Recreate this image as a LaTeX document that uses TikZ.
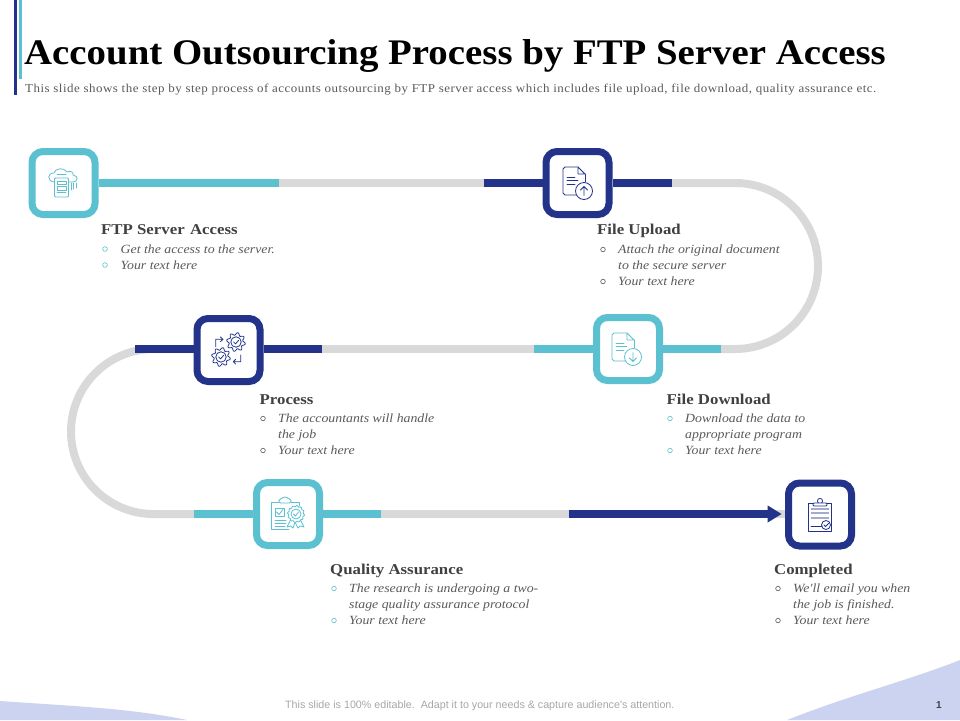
\documentclass[tikz,border=0pt]{standalone}
\usepackage{fontspec}
\setmainfont{Liberation Serif}
\newfontfamily\titlefont[FakeStretch=1.079]{Liberation Serif}
\newfontfamily\subfont[FakeStretch=1.08,LetterSpace=4.1]{Liberation Serif}
\newfontfamily\headfont[FakeStretch=1.12]{Liberation Serif}
\newfontfamily\itemfont[FakeStretch=1.105]{Liberation Serif}
\newfontfamily\footfont{Liberation Sans}
\usetikzlibrary{arrows.meta,calc}
\definecolor{navy}{RGB}{34,51,137}
\definecolor{teal2}{RGB}{91,192,208}
\definecolor{track}{RGB}{217,217,217}
\definecolor{wave}{RGB}{204,211,240}
\definecolor{headc}{RGB}{64,64,64}
\definecolor{bodyc}{RGB}{89,89,89}
\definecolor{linec}{RGB}{165,172,205}
\tikzset{
  stepbox/.style={draw=#1,line width=7pt,fill=white,rounded corners=11pt,minimum size=63pt,inner sep=0pt},
  trackline/.style={draw=track,line width=8pt},
  segline/.style={draw=#1,line width=8pt},
  heading/.style={anchor=base west,inner sep=0pt,text=headc,font=\headfont\fontsize{15}{16}\selectfont\bfseries},
  itemtext/.style={anchor=north west,inner sep=0pt,yshift=-1pt,text=bodyc,align=left,font=\itemfont\fontsize{12.5}{16}\selectfont\itshape},
  bulletdot/.style={circle,draw=#1,line width=0.6pt,minimum size=4.6pt,inner sep=0pt,yshift=-0.5pt},
  iconline/.style={draw=#1,line width=0.8pt,line cap=round,line join=round},
}
\newcommand{\docicon}[4]{% x y colour direction(+1 up, -1 down)
  \begin{scope}[shift={(#1,#2)},iconline=#3]
    \draw (15,0) -- (2,0) -- (0,2) -- (0,26) -- (2,28) -- (14,28);
    \draw (15,0) -- (15,7) -- (22,7) -- cycle;
    \draw (22,7) -- (22,15);
    \draw (4,10) -- (12,10) (4,13.5) -- (15,13.5) (4,17.5) -- (12,17.5);
    \draw[fill=white] (21,24) circle[radius=8.5];
    \draw (21,{24+4.5*#4}) -- (21,{24-4.5*#4}) (17.5,{24-1*#4}) -- (21,{24-4.5*#4}) -- (24.5,{24-1*#4});
  \end{scope}}
\newcommand{\gearicon}[3]{%
  \begin{scope}[shift={(#1,#2)},iconline=navy]
    \draw plot[domain=0:360,samples=65,smooth] (\x:{#3*(0.86+0.14*sin(8*\x))});
    \draw (0,0) circle[radius={#3*0.55}];
    \draw ({-#3*0.25},0) -- ({-#3*0.05},{#3*0.2}) -- ({#3*0.28},{-#3*0.18});
  \end{scope}}
\begin{document}
\begin{tikzpicture}[x=1pt,y=-1pt]
\useasboundingbox (0,0) rectangle (960,720);
% background waves
\fill[wave] (0,701) .. controls (70,706) and (130,708) .. (187,720) -- (0,720) -- cycle;
\fill[wave] (787,720) .. controls (850,695) and (910,680) .. (960,660) -- (960,720) -- cycle;
% title bars
\fill[navy] (14,0) rectangle (17,95);
\fill[teal2] (19,0) rectangle (22,79);
\node[anchor=base west,inner sep=0pt,text=black,font=\titlefont\fontsize{36}{40}\selectfont\bfseries] (title) at (24,64) {Account Outsourcing Process by FTP Server Access};
\node[anchor=base west,inner sep=0pt,text=bodyc,font=\subfont\fontsize{12}{14}\selectfont] (subtitle) at (25,92) {This slide shows the step by step process of accounts outsourcing by FTP server access which includes file upload, file download, quality assurance etc.};
% step boxes
\node[stepbox=teal2] (box1) at (63.5,183) {};
\node[stepbox=navy] (box2) at (577.5,183) {};
\node[stepbox=teal2] (box3) at (628,349) {};
\node[stepbox=navy] (box4) at (228.5,350) {};
\node[stepbox=teal2] (box5) at (288,514) {};
\node[stepbox=navy] (box6) at (820,514.5) {};
% free ends
\coordinate (r1) at (735,183);
\coordinate (r2) at (818,266);
\coordinate (r3) at (735,349);
\coordinate (l1) at (153.5,349);
\coordinate (l2) at (71,431.5);
\coordinate (l3) at (153.5,514);
\coordinate (s1) at (279,183);
\coordinate (s2a) at (484,183);
\coordinate (s2b) at (672,183);
\coordinate (s3a) at (534,349);
\coordinate (s3b) at (721,349);
\coordinate (s4a) at (135,349);
\coordinate (s4b) at (322,349);
\coordinate (s5a) at (194,514);
\coordinate (s5b) at (381,514);
\coordinate (s6) at (569,514);
% grey track
\draw[trackline] (box1.east) -- (box2.west);
\draw[trackline] (box2.east) -- (r1) .. controls (781,183) and (818,220) .. (r2) .. controls (818,312) and (781,349) .. (r3) -- (box3.east |- r3);
\draw[trackline] (box3.west) -- (box4.east |- box3.west);
\draw[trackline] (box4.west |- l1) -- (l1) .. controls (108,349) and (71,386) .. (l2) .. controls (71,477) and (108,514) .. (l3) -- (box5.west);
\draw[trackline] (box5.east) -- (box6.west |- box5.east);
% coloured segments
\draw[segline=teal2] (box1.east) -- (s1);
\draw[segline=navy] (s2a) -- (box2.west);
\draw[segline=navy] (box2.east) -- (s2b);
\draw[segline=teal2] (s3a) -- (box3.west);
\draw[segline=teal2] (box3.east) -- (s3b);
\draw[segline=navy] (s4a) -- (box4.west |- s4a);
\draw[segline=navy] (box4.east |- s4b) -- (s4b);
\draw[segline=teal2] (s5a) -- (box5.west);
\draw[segline=teal2] (box5.east) -- (s5b);
\draw[segline=navy,-{Triangle[length=14pt,width=16pt]}] (s6) -- ($(box6.west |- s6)+(-3.3,0)$);
% icon 1: cloud and server
\begin{scope}[iconline=teal2]
  \draw (54,182) .. controls (47,181) and (47,173) .. (54,173) .. controls (55,168) and (64,167) .. (67,172) .. controls (71,170) and (74,173) .. (73,175) .. controls (79,176) and (78,182) .. (73,182) -- (69,182);
  \draw (57,174) -- (66,174);
  \draw[fill=white,rounded corners=1pt] (54.5,178) rectangle (68.5,197);
  \draw (57,181) rectangle (66,184.5) (57,186.5) rectangle (66,190) (57,192) -- (66,192);
  \draw (71,183) -- (71,190) (73.5,183) -- (73.5,189) (76,183) -- (76,188);
\end{scope}
% icon 2 and 3: documents
\docicon{563}{167}{navy}{1}
\docicon{612}{333}{teal2}{-1}
% icon 4: gears
\gearicon{236}{342}{9.5}
\gearicon{221}{357}{9.5}
\begin{scope}[iconline=navy]
  \draw (215.7,346.7) -- (215.7,339.3) -- (223,339.3) (220.5,337) -- (223,339.3) -- (220.5,341.6);
  \draw (240.7,355) -- (240.7,361.7) -- (233.3,361.7) (235.6,359.4) -- (233.3,361.7) -- (235.6,364);
\end{scope}
% icon 5: clipboard with rosette
\begin{scope}[iconline=teal2]
  \draw (289,529) -- (271,529) -- (271,502) -- (279,502) (291,502) -- (299,502) -- (299,506);
  \draw[rounded corners=1.5pt] (279,503) -- (279,499) -- (282,499) -- (283,497) -- (287,497) -- (288,499) -- (291,499) -- (291,503) -- cycle;
  \draw (275,508) rectangle (284,516);
  \draw (276.5,512) -- (279,514.5) -- (283,509.5);
  \draw (275,520) -- (286,520) (275,523) -- (286,523) (275,526) -- (285,526);
  \draw (291,519) -- (287,527) -- (290.5,526) -- (293,528) -- (295,522) -- (298,528) -- (300,526) -- (304,527) -- (300,519);
\end{scope}
\begin{scope}[shift={(296,514)},iconline=teal2]
  \draw[fill=white] plot[domain=0:360,samples=65,smooth] (\x:{8.5*(0.93+0.07*sin(12*\x))});
  \draw (0,0) circle[radius=5];
  \draw (-2.5,0) -- (-0.5,2) -- (2.5,-2);
\end{scope}
% icon 6: clipboard with check
\begin{scope}[iconline=navy]
  \draw (808.5,503) -- (831.5,503) -- (831.5,531.5) -- (808.5,531.5) -- cycle;
  \draw (820,501) circle[radius=2.6];
  \draw[fill=white,rounded corners=1pt] (813,506) -- (813,503) -- (827,503) -- (827,506) -- cycle;
  \draw[linec,line width=1.6pt,line cap=butt] (811,509) -- (829,509) (811,513) -- (829,513) (811,518) -- (829,518);
  \draw (811,526) -- (822,526);
  \draw[fill=white] (826,525) circle[radius=4.5];
  \draw (824,525) -- (825.5,526.5) -- (828.5,523.5);
\end{scope}
% step 1
\node[heading] (h1) at (101,234) {FTP Server\hspace{1.2pt} Access};
\node[bulletdot=teal2] (b1a) at (105,248.5) {};
\node[bulletdot=teal2] (b1b) at (105,264.5) {};
\node[itemtext] (t1a) at (120.5,240.8) {\strut Get the access to the server.};
\node[itemtext] (t1b) at (120.5,256.8) {\strut Your text here};
% step 2
\node[heading] (h2) at (597,234) {File Upload};
\node[bulletdot=bodyc] (b2a) at (603,249) {};
\node[bulletdot=bodyc] (b2b) at (603,281) {};
\node[itemtext] (t2a) at (618,241.3) {\strut Attach the original document\\\strut to the secure server};
\node[itemtext] (t2b) at (618,273.3) {\strut Your text here};
% step 3
\node[heading] (h3) at (666.5,404) {File Download};
\node[bulletdot=teal2] (b3a) at (670,418) {};
\node[bulletdot=teal2] (b3b) at (670,450) {};
\node[itemtext] (t3a) at (685,410.3) {\strut Download the data to\\\strut appropriate program};
\node[itemtext] (t3b) at (685,442.3) {\strut Your text here};
% step 4
\node[heading] (h4) at (259.5,404) {Process};
\node[bulletdot=bodyc] (b4a) at (263,418) {};
\node[bulletdot=bodyc] (b4b) at (263,450) {};
\node[itemtext] (t4a) at (278,410.3) {\strut The accountants will handle\\\strut the job};
\node[itemtext] (t4b) at (278,442.3) {\strut Your text here};
% step 5
\node[heading] (h5) at (330,574) {Quality Assurance};
\node[bulletdot=teal2] (b5a) at (334,588) {};
\node[bulletdot=teal2] (b5b) at (334,620) {};
\node[itemtext] (t5a) at (349,580.3) {\strut The research is undergoing a two-\\\strut stage quality assurance protocol};
\node[itemtext] (t5b) at (349,612.3) {\strut Your text here};
% step 6
\node[heading] (h6) at (774,574) {Completed};
\node[bulletdot=bodyc] (b6a) at (778,588) {};
\node[bulletdot=bodyc] (b6b) at (778,620) {};
\node[itemtext] (t6a) at (793,580.3) {\strut We'll email you when\\\strut the job is finished.};
\node[itemtext] (t6b) at (793,612.3) {\strut Your text here};
% footer
\node[anchor=base west,inner sep=0pt,text=black!35,font=\footfont\fontsize{10.7}{12}\selectfont] (foot) at (285,708) {This slide is 100\% editable.\ \ Adapt it to your needs \& capture audience's attention.};
\node[anchor=base,inner sep=0pt,text=headc,font=\footfont\fontsize{10}{12}\selectfont\bfseries] (pagenum) at (939,708) {1};
\end{tikzpicture}
\end{document}
